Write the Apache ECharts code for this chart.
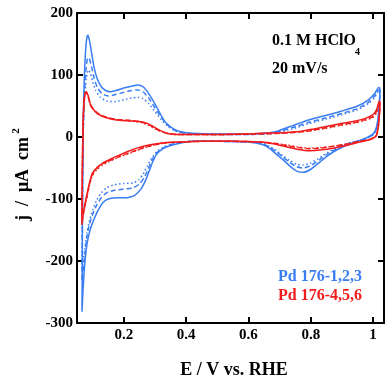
<!DOCTYPE html>
<html>
<head>
<meta charset="utf-8">
<script src="https://cdn.jsdelivr.net/npm/echarts@6/dist/echarts.min.js"></script>
<style>
html,body{margin:0;padding:0;background:#fff;}
#chart{width:390px;height:381px;}
</style>
</head>
<body>
<div id="chart"></div>
<script>
// ---- data: [E (V vs RHE), j (uA cm^-2)] ----
var xTicks = [0.2, 0.4, 0.6, 0.8, 1];
var yTicks = [-300, -200, -100, 0, 100, 200];

var blue1 = [
[0.066,-282],[0.067,-200],[0.068,-80],[0.07,20],[0.073,90],[0.077,135],[0.081,158],[0.085,164],[0.09,156],[0.097,135],[0.105,112],[0.115,94],[0.128,81],[0.142,75],[0.155,73],[0.175,75],[0.2,79],[0.225,82],[0.245,84],[0.262,81],[0.28,70],[0.305,49],[0.322,33],[0.337,22],[0.36,13],[0.38,9],[0.42,6],[0.5,5],[0.6,5],[0.65,6],[0.69,9],[0.74,18],[0.79,27],[0.85,35],[0.9,42],[0.95,50],[0.985,60],[1.005,70],[1.018,80],
[1.022,78],[1.02,55],[1.016,30],[1.01,14],[1.0,5],[0.98,-1],[0.96,-5],[0.92,-12],[0.883,-21],[0.855,-30],[0.83,-40],[0.8,-52],[0.776,-57],[0.755,-55],[0.733,-47],[0.71,-36],[0.69,-28],[0.67,-19],[0.645,-12],[0.6,-8],[0.5,-7],[0.42,-7],[0.38,-10],[0.348,-14],[0.325,-19],[0.305,-28],[0.293,-40],[0.283,-53],[0.27,-70],[0.255,-84],[0.235,-94],[0.21,-98],[0.18,-98],[0.15,-100],[0.133,-106],[0.118,-118],[0.105,-132],[0.095,-145],[0.087,-160],[0.08,-180],[0.074,-210],[0.069,-250],[0.066,-282]
];
var blue2 = [
[0.066,-230],[0.068,-80],[0.07,10],[0.074,70],[0.079,110],[0.085,128],[0.09,126],[0.097,112],[0.105,95],[0.115,80],[0.13,70],[0.15,66],[0.17,68],[0.2,72],[0.225,75],[0.245,76],[0.262,73],[0.28,63],[0.3,47],[0.32,32],[0.337,21],[0.36,12],[0.38,8],[0.42,5],[0.5,4],[0.6,4],[0.65,5],[0.69,8],[0.74,15],[0.79,23],[0.85,31],[0.9,38],[0.95,46],[0.985,56],[1.005,66],[1.018,76],
[1.022,74],[1.02,52],[1.016,28],[1.01,12],[1.0,4],[0.98,-2],[0.96,-5],[0.92,-11],[0.883,-19],[0.855,-27],[0.83,-36],[0.8,-46],[0.776,-50],[0.755,-48],[0.733,-41],[0.71,-32],[0.69,-24],[0.67,-17],[0.645,-11],[0.6,-8],[0.5,-7],[0.42,-7],[0.38,-9],[0.348,-13],[0.325,-18],[0.305,-26],[0.29,-38],[0.278,-52],[0.265,-66],[0.25,-76],[0.23,-82],[0.2,-84],[0.17,-86],[0.145,-90],[0.128,-98],[0.113,-110],[0.1,-125],[0.09,-140],[0.082,-160],[0.075,-190],[0.07,-215],[0.066,-230]
];
var blue3 = [
[0.066,-212],[0.068,-70],[0.07,10],[0.074,60],[0.08,95],[0.086,108],[0.092,104],[0.1,90],[0.11,75],[0.125,64],[0.145,58],[0.17,57],[0.2,60],[0.225,63],[0.245,64],[0.262,62],[0.28,54],[0.3,41],[0.32,28],[0.337,19],[0.36,11],[0.38,7],[0.42,5],[0.5,4],[0.6,4],[0.65,5],[0.69,7],[0.74,13],[0.79,21],[0.85,29],[0.9,36],[0.95,44],[0.985,54],[1.005,64],[1.018,74],
[1.022,72],[1.02,50],[1.016,27],[1.01,11],[1.0,3],[0.98,-2],[0.96,-5],[0.92,-10],[0.883,-17],[0.855,-25],[0.83,-33],[0.8,-42],[0.776,-45],[0.755,-44],[0.733,-38],[0.71,-30],[0.69,-22],[0.67,-16],[0.645,-10],[0.6,-8],[0.5,-7],[0.42,-7],[0.38,-9],[0.348,-12],[0.325,-17],[0.305,-24],[0.29,-34],[0.275,-47],[0.262,-60],[0.248,-69],[0.23,-74],[0.2,-75],[0.17,-77],[0.145,-82],[0.128,-90],[0.113,-102],[0.1,-118],[0.09,-135],[0.082,-155],[0.075,-180],[0.07,-200],[0.066,-212]
];
var red1 = [
[0.066,-142],[0.067,-60],[0.069,10],[0.072,55],[0.076,71],[0.08,73],[0.086,66],[0.093,52],[0.1,46],[0.115,38],[0.133,33],[0.16,29],[0.187,27],[0.22,26],[0.25,25],[0.275,22],[0.294,17],[0.315,11],[0.338,6],[0.37,4],[0.42,4],[0.5,4],[0.6,5],[0.64,6],[0.7,7],[0.765,9],[0.81,13],[0.85,17],[0.89,21],[0.936,25],[0.975,30],[1.0,36],[1.012,45],[1.02,58],
[1.022,56],[1.02,35],[1.016,15],[1.01,2],[0.99,-4],[0.958,-8],[0.92,-13],[0.872,-18],[0.83,-21],[0.797,-22],[0.76,-20],[0.724,-16],[0.68,-11],[0.637,-8],[0.55,-7],[0.45,-7],[0.38,-8],[0.34,-9],[0.305,-11],[0.27,-14],[0.242,-18],[0.215,-23],[0.187,-29],[0.16,-35],[0.133,-42],[0.115,-49],[0.1,-58],[0.092,-70],[0.085,-85],[0.078,-102],[0.07,-123],[0.066,-142]
];
var red2 = [
[0.066,-138],[0.067,-60],[0.069,8],[0.072,52],[0.076,70],[0.08,72],[0.086,65],[0.093,53],[0.1,47],[0.115,39],[0.133,34],[0.16,30],[0.187,28],[0.22,27],[0.25,25],[0.275,21],[0.294,16],[0.315,10],[0.338,6],[0.37,4],[0.42,4],[0.5,4],[0.6,5],[0.64,5],[0.7,6],[0.765,8],[0.81,11],[0.85,15],[0.89,19],[0.936,23],[0.975,28],[1.0,33],[1.012,42],[1.02,55],
[1.022,53],[1.02,33],[1.016,14],[1.01,2],[0.99,-4],[0.958,-7],[0.92,-11],[0.872,-15],[0.83,-18],[0.797,-19],[0.76,-17],[0.724,-14],[0.68,-10],[0.637,-8],[0.55,-7],[0.45,-7],[0.38,-8],[0.34,-9],[0.305,-12],[0.27,-16],[0.242,-21],[0.215,-26],[0.187,-31],[0.16,-37],[0.133,-43],[0.115,-50],[0.1,-60],[0.092,-72],[0.085,-88],[0.078,-105],[0.07,-125],[0.066,-138]
];
var red3 = [
[0.066,-136],[0.067,-60],[0.069,8],[0.072,50],[0.076,68],[0.08,70],[0.086,64],[0.093,52],[0.1,46],[0.115,38],[0.133,33],[0.16,29],[0.187,27],[0.22,26],[0.25,24],[0.275,20],[0.294,15],[0.315,10],[0.338,6],[0.37,4],[0.42,4],[0.5,4],[0.6,5],[0.64,5],[0.7,6],[0.765,8],[0.81,11],[0.85,14],[0.89,18],[0.936,22],[0.975,27],[1.0,32],[1.012,40],[1.02,53],
[1.022,51],[1.02,32],[1.016,13],[1.01,1],[0.99,-4],[0.958,-7],[0.92,-11],[0.872,-15],[0.83,-17],[0.797,-18],[0.76,-16],[0.724,-13],[0.68,-10],[0.637,-8],[0.55,-7],[0.45,-7],[0.38,-8],[0.34,-9],[0.305,-12],[0.27,-17],[0.242,-22],[0.215,-27],[0.187,-32],[0.16,-38],[0.133,-45],[0.115,-52],[0.1,-62],[0.092,-74],[0.085,-90],[0.078,-107],[0.07,-124],[0.066,-136]
];

var blueLabel = 'Pd 176-1,2,3';
var redLabel = 'Pd 176-4,5,6';
var note1 = '0.1 M HClO';
var note1Sub = '4';
var note2 = '20 mV/s';
var xTitle = 'E / V vs. RHE';
var yTitle = 'j\u2002/\u2002μA\u2002cm';
var yTitleSup = '2';

// ---- styling ----
var BLUE = '#3a7df2';
var RED = '#f21c1c';
var FONT = '"Liberation Serif", "Times New Roman", serif';

function lineSeries(name, data, color, type) {
  return {
    name: name, type: 'line', data: data, showSymbol: false, smooth: 0.2,
    xAxisIndex: 0, yAxisIndex: 0, animation: false,
    lineStyle: { color: color, width: 1.5, type: type }
  };
}

var axisLineStyle = { show: true, onZero: false, lineStyle: { color: '#000', width: 2 } };
var tickStyle = { show: true, inside: true, length: 6, lineStyle: { color: '#000', width: 2 } };
var labelFont = { fontFamily: FONT, fontWeight: 'bold', fontSize: 15, color: '#000' };

function xAxisDef(pos, showLabel) {
  return {
    type: 'value', position: pos, min: 0.05, max: 1.035,
    axisLine: axisLineStyle,
    axisTick: Object.assign({ customValues: xTicks }, tickStyle),
    axisLabel: Object.assign({ show: showLabel, margin: 5, customValues: xTicks,
      formatter: function (v) { return String(v); } }, labelFont),
    splitLine: { show: false }
  };
}
function yAxisDef(pos, showLabel) {
  return {
    type: 'value', position: pos, min: -300, max: 200, interval: 100,
    axisLine: axisLineStyle,
    axisTick: tickStyle,
    axisLabel: Object.assign({ show: showLabel, margin: 4 }, labelFont),
    splitLine: { show: false }
  };
}

var chart = echarts.init(document.getElementById('chart'), null, { renderer: 'canvas' });
chart.setOption({
  animation: false,
  backgroundColor: '#fff',
  grid: { left: 77, right: 6, top: 13, bottom: 58 },
  xAxis: [xAxisDef('bottom', true), xAxisDef('top', false)],
  yAxis: [yAxisDef('left', true), yAxisDef('right', false)],
  series: [
    lineSeries('b3', blue3, BLUE, [1.5, 2.5]),
    lineSeries('b2', blue2, BLUE, [5, 3]),
    lineSeries('b1', blue1, BLUE, 'solid'),
    lineSeries('r3', red3, RED, [1.5, 2.5]),
    lineSeries('r2', red2, RED, [5, 3]),
    lineSeries('r1', red1, RED, 'solid')
  ],
  graphic: [
    { type: 'text', left: 272, top: 33, style: { text: note1, font: 'bold 16px ' + FONT, fill: '#000' } },
    { type: 'text', left: 355, top: 47, style: { text: note1Sub, font: 'bold 10px ' + FONT, fill: '#000' } },
    { type: 'text', left: 272, top: 61, style: { text: note2, font: 'bold 16px ' + FONT, fill: '#000' } },
    { type: 'text', right: 28, top: 269, style: { text: blueLabel, font: 'bold 16px ' + FONT, fill: BLUE } },
    { type: 'text', right: 28, top: 288, style: { text: redLabel, font: 'bold 16px ' + FONT, fill: RED } },
    { type: 'text', x: 234, y: 370, style: { text: xTitle, font: 'bold 18px ' + FONT, fill: '#000', align: 'center', verticalAlign: 'middle' } },
    { type: 'text', x: 23, y: 179, rotation: Math.PI / 2, style: { text: yTitle, font: 'bold 18px ' + FONT, fill: '#000', align: 'center', verticalAlign: 'middle' } },
    { type: 'text', x: 16, y: 131, rotation: Math.PI / 2, style: { text: yTitleSup, font: 'bold 11px ' + FONT, fill: '#000', align: 'center', verticalAlign: 'middle' } }
  ]
});
</script>
</body>
</html>
